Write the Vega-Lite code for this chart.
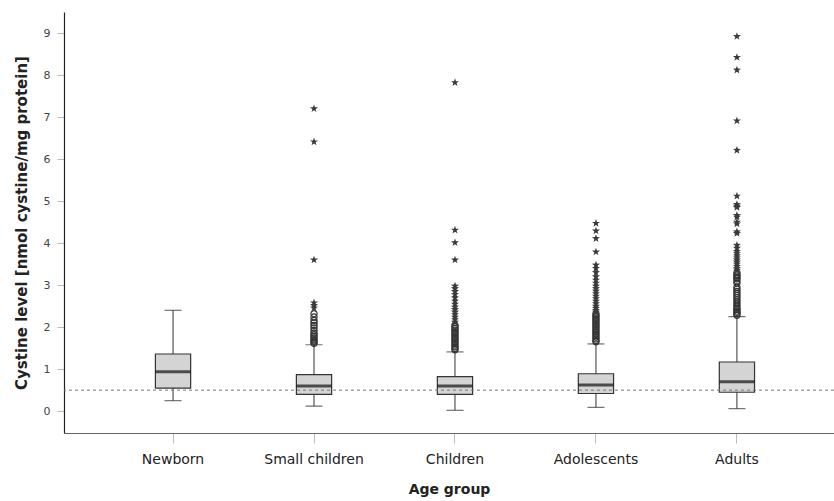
{
  "$schema": "https://vega.github.io/schema/vega-lite/v6.json",
  "width": 770,
  "height": 421,
  "autosize": "none",
  "padding": {"left": 64, "top": 12, "right": 0, "bottom": 68},
  "background": "white",
  "config": {
    "font": "DejaVu Sans",
    "view": {"stroke": null},
    "axis": {"grid": false}
  },
  "datasets": {
    "boxes": [
      {"group": "Newborn", "lower": 0.25, "q1": 0.55, "median": 0.94, "q3": 1.36, "upper": 2.40},
      {"group": "Small children", "lower": 0.12, "q1": 0.40, "median": 0.60, "q3": 0.87, "upper": 1.58},
      {"group": "Children", "lower": 0.02, "q1": 0.40, "median": 0.60, "q3": 0.82, "upper": 1.41},
      {"group": "Adolescents", "lower": 0.09, "q1": 0.42, "median": 0.62, "q3": 0.89, "upper": 1.60},
      {"group": "Adults", "lower": 0.06, "q1": 0.45, "median": 0.70, "q3": 1.17, "upper": 2.25}
    ],
    "outliers": [
      {"group": "Small children", "value": 7.2, "kind": "extreme"},
      {"group": "Small children", "value": 6.41, "kind": "extreme"},
      {"group": "Small children", "value": 3.6, "kind": "extreme"},
      {"group": "Small children", "value": 2.58, "kind": "extreme"},
      {"group": "Small children", "value": 2.52, "kind": "extreme"},
      {"group": "Small children", "value": 2.46, "kind": "extreme"},
      {"group": "Small children", "value": 2.32, "kind": "outlier"},
      {"group": "Small children", "value": 2.24, "kind": "outlier"},
      {"group": "Small children", "value": 2.16, "kind": "outlier"},
      {"group": "Small children", "value": 2.10, "kind": "outlier"},
      {"group": "Small children", "value": 2.04, "kind": "outlier"},
      {"group": "Small children", "value": 1.98, "kind": "outlier"},
      {"group": "Small children", "value": 1.92, "kind": "outlier"},
      {"group": "Small children", "value": 1.86, "kind": "outlier"},
      {"group": "Small children", "value": 1.82, "kind": "outlier"},
      {"group": "Small children", "value": 1.78, "kind": "outlier"},
      {"group": "Small children", "value": 1.74, "kind": "outlier"},
      {"group": "Small children", "value": 1.70, "kind": "outlier"},
      {"group": "Small children", "value": 1.67, "kind": "outlier"},
      {"group": "Small children", "value": 1.64, "kind": "outlier"},
      {"group": "Small children", "value": 1.61, "kind": "outlier"},
      {"group": "Children", "value": 7.82, "kind": "extreme"},
      {"group": "Children", "value": 4.31, "kind": "extreme"},
      {"group": "Children", "value": 4.01, "kind": "extreme"},
      {"group": "Children", "value": 3.60, "kind": "extreme"},
      {"group": "Children", "value": 2.98, "kind": "extreme"},
      {"group": "Children", "value": 2.92, "kind": "extreme"},
      {"group": "Children", "value": 2.85, "kind": "extreme"},
      {"group": "Children", "value": 2.78, "kind": "extreme"},
      {"group": "Children", "value": 2.70, "kind": "extreme"},
      {"group": "Children", "value": 2.62, "kind": "extreme"},
      {"group": "Children", "value": 2.55, "kind": "extreme"},
      {"group": "Children", "value": 2.48, "kind": "extreme"},
      {"group": "Children", "value": 2.42, "kind": "extreme"},
      {"group": "Children", "value": 2.36, "kind": "extreme"},
      {"group": "Children", "value": 2.30, "kind": "extreme"},
      {"group": "Children", "value": 2.24, "kind": "extreme"},
      {"group": "Children", "value": 2.18, "kind": "extreme"},
      {"group": "Children", "value": 2.12, "kind": "extreme"},
      {"group": "Children", "value": 2.05, "kind": "outlier"},
      {"group": "Children", "value": 2.01, "kind": "outlier"},
      {"group": "Children", "value": 1.97, "kind": "outlier"},
      {"group": "Children", "value": 1.93, "kind": "outlier"},
      {"group": "Children", "value": 1.89, "kind": "outlier"},
      {"group": "Children", "value": 1.85, "kind": "outlier"},
      {"group": "Children", "value": 1.81, "kind": "outlier"},
      {"group": "Children", "value": 1.77, "kind": "outlier"},
      {"group": "Children", "value": 1.73, "kind": "outlier"},
      {"group": "Children", "value": 1.69, "kind": "outlier"},
      {"group": "Children", "value": 1.65, "kind": "outlier"},
      {"group": "Children", "value": 1.61, "kind": "outlier"},
      {"group": "Children", "value": 1.57, "kind": "outlier"},
      {"group": "Children", "value": 1.53, "kind": "outlier"},
      {"group": "Children", "value": 1.49, "kind": "outlier"},
      {"group": "Children", "value": 1.46, "kind": "outlier"},
      {"group": "Adolescents", "value": 4.47, "kind": "extreme"},
      {"group": "Adolescents", "value": 4.29, "kind": "extreme"},
      {"group": "Adolescents", "value": 4.11, "kind": "extreme"},
      {"group": "Adolescents", "value": 3.79, "kind": "extreme"},
      {"group": "Adolescents", "value": 3.48, "kind": "extreme"},
      {"group": "Adolescents", "value": 3.40, "kind": "extreme"},
      {"group": "Adolescents", "value": 3.30, "kind": "extreme"},
      {"group": "Adolescents", "value": 3.20, "kind": "extreme"},
      {"group": "Adolescents", "value": 3.12, "kind": "extreme"},
      {"group": "Adolescents", "value": 3.05, "kind": "extreme"},
      {"group": "Adolescents", "value": 2.98, "kind": "extreme"},
      {"group": "Adolescents", "value": 2.92, "kind": "extreme"},
      {"group": "Adolescents", "value": 2.86, "kind": "extreme"},
      {"group": "Adolescents", "value": 2.80, "kind": "extreme"},
      {"group": "Adolescents", "value": 2.74, "kind": "extreme"},
      {"group": "Adolescents", "value": 2.68, "kind": "extreme"},
      {"group": "Adolescents", "value": 2.62, "kind": "extreme"},
      {"group": "Adolescents", "value": 2.56, "kind": "extreme"},
      {"group": "Adolescents", "value": 2.50, "kind": "extreme"},
      {"group": "Adolescents", "value": 2.45, "kind": "extreme"},
      {"group": "Adolescents", "value": 2.40, "kind": "extreme"},
      {"group": "Adolescents", "value": 2.36, "kind": "extreme"},
      {"group": "Adolescents", "value": 2.32, "kind": "outlier"},
      {"group": "Adolescents", "value": 2.28, "kind": "outlier"},
      {"group": "Adolescents", "value": 2.24, "kind": "outlier"},
      {"group": "Adolescents", "value": 2.20, "kind": "outlier"},
      {"group": "Adolescents", "value": 2.16, "kind": "outlier"},
      {"group": "Adolescents", "value": 2.12, "kind": "outlier"},
      {"group": "Adolescents", "value": 2.08, "kind": "outlier"},
      {"group": "Adolescents", "value": 2.04, "kind": "outlier"},
      {"group": "Adolescents", "value": 2.00, "kind": "outlier"},
      {"group": "Adolescents", "value": 1.96, "kind": "outlier"},
      {"group": "Adolescents", "value": 1.92, "kind": "outlier"},
      {"group": "Adolescents", "value": 1.88, "kind": "outlier"},
      {"group": "Adolescents", "value": 1.84, "kind": "outlier"},
      {"group": "Adolescents", "value": 1.80, "kind": "outlier"},
      {"group": "Adolescents", "value": 1.76, "kind": "outlier"},
      {"group": "Adolescents", "value": 1.72, "kind": "outlier"},
      {"group": "Adolescents", "value": 1.68, "kind": "outlier"},
      {"group": "Adolescents", "value": 1.65, "kind": "outlier"},
      {"group": "Adults", "value": 8.92, "kind": "extreme"},
      {"group": "Adults", "value": 8.42, "kind": "extreme"},
      {"group": "Adults", "value": 8.12, "kind": "extreme"},
      {"group": "Adults", "value": 6.91, "kind": "extreme"},
      {"group": "Adults", "value": 6.21, "kind": "extreme"},
      {"group": "Adults", "value": 5.12, "kind": "extreme"},
      {"group": "Adults", "value": 4.92, "kind": "extreme"},
      {"group": "Adults", "value": 4.88, "kind": "extreme"},
      {"group": "Adults", "value": 4.85, "kind": "extreme"},
      {"group": "Adults", "value": 4.66, "kind": "extreme"},
      {"group": "Adults", "value": 4.62, "kind": "extreme"},
      {"group": "Adults", "value": 4.50, "kind": "extreme"},
      {"group": "Adults", "value": 4.46, "kind": "extreme"},
      {"group": "Adults", "value": 4.27, "kind": "extreme"},
      {"group": "Adults", "value": 4.23, "kind": "extreme"},
      {"group": "Adults", "value": 3.95, "kind": "extreme"},
      {"group": "Adults", "value": 3.88, "kind": "extreme"},
      {"group": "Adults", "value": 3.80, "kind": "extreme"},
      {"group": "Adults", "value": 3.75, "kind": "extreme"},
      {"group": "Adults", "value": 3.70, "kind": "extreme"},
      {"group": "Adults", "value": 3.65, "kind": "extreme"},
      {"group": "Adults", "value": 3.60, "kind": "extreme"},
      {"group": "Adults", "value": 3.55, "kind": "extreme"},
      {"group": "Adults", "value": 3.50, "kind": "extreme"},
      {"group": "Adults", "value": 3.45, "kind": "extreme"},
      {"group": "Adults", "value": 3.40, "kind": "extreme"},
      {"group": "Adults", "value": 3.36, "kind": "extreme"},
      {"group": "Adults", "value": 3.30, "kind": "outlier"},
      {"group": "Adults", "value": 3.25, "kind": "outlier"},
      {"group": "Adults", "value": 3.22, "kind": "outlier"},
      {"group": "Adults", "value": 3.18, "kind": "outlier"},
      {"group": "Adults", "value": 3.15, "kind": "outlier"},
      {"group": "Adults", "value": 3.10, "kind": "outlier"},
      {"group": "Adults", "value": 3.05, "kind": "outlier"},
      {"group": "Adults", "value": 2.95, "kind": "outlier"},
      {"group": "Adults", "value": 2.90, "kind": "outlier"},
      {"group": "Adults", "value": 2.85, "kind": "outlier"},
      {"group": "Adults", "value": 2.80, "kind": "outlier"},
      {"group": "Adults", "value": 2.75, "kind": "outlier"},
      {"group": "Adults", "value": 2.70, "kind": "outlier"},
      {"group": "Adults", "value": 2.65, "kind": "outlier"},
      {"group": "Adults", "value": 2.60, "kind": "outlier"},
      {"group": "Adults", "value": 2.55, "kind": "outlier"},
      {"group": "Adults", "value": 2.50, "kind": "outlier"},
      {"group": "Adults", "value": 2.45, "kind": "outlier"},
      {"group": "Adults", "value": 2.42, "kind": "outlier"},
      {"group": "Adults", "value": 2.38, "kind": "outlier"},
      {"group": "Adults", "value": 2.35, "kind": "outlier"},
      {"group": "Adults", "value": 2.32, "kind": "outlier"},
      {"group": "Adults", "value": 2.28, "kind": "outlier"}
    ]
  },
  "layer": [
    {
      "data": {"name": "boxes"},
      "mark": {"type": "rule", "color": "#333333", "strokeWidth": 1},
      "encoding": {
        "x": {
          "field": "group", "type": "nominal",
          "scale": {"domain": ["Newborn", "Small children", "Children", "Adolescents", "Adults"], "paddingInner": 0.75, "paddingOuter": 0.606, "align": 0.535},
          "axis": {
            "orient": "bottom",
            "title": "Age group", "labelAngle": 0, "labelFontSize": 14, "labelColor": "#222222",
            "labelPadding": 9, "tickSize": 10, "tickColor": "#bbbbbb", "domainColor": "#666666", "domainWidth": 1.2,
            "titleFontSize": 14, "titleFontWeight": "bold", "titleColor": "#222222", "titlePadding": 16
          }
        },
        "y": {
          "field": "lower", "type": "quantitative",
          "scale": {"domain": [-0.52, 9.5], "nice": false, "zero": false},
          "axis": {
            "orient": "left",
            "title": "Cystine level [nmol cystine/mg protein]", "values": [0, 1, 2, 3, 4, 5, 6, 7, 8, 9],
            "labelFontSize": 11, "labelColor": "#444444", "labelPadding": 7, "tickSize": 7, "tickColor": "#bbbbbb",
            "domainColor": "#222222", "domainWidth": 1.2,
            "titleFontSize": 15, "titleFontWeight": "bold", "titleColor": "#222222", "titlePadding": 14
          }
        },
        "y2": {"field": "upper"}
      }
    },
    {
      "data": {"name": "boxes"},
      "mark": {"type": "tick", "orient": "horizontal", "color": "#333333", "size": 17, "thickness": 1.2},
      "encoding": {
        "x": {"field": "group", "type": "nominal"},
        "y": {"field": "lower", "type": "quantitative"}
      }
    },
    {
      "data": {"name": "boxes"},
      "mark": {"type": "tick", "orient": "horizontal", "color": "#333333", "size": 17, "thickness": 1.2},
      "encoding": {
        "x": {"field": "group", "type": "nominal"},
        "y": {"field": "upper", "type": "quantitative"}
      }
    },
    {
      "data": {"name": "boxes"},
      "mark": {"type": "bar", "fill": "#d4d4d4", "stroke": "#333333", "strokeWidth": 1.2},
      "encoding": {
        "x": {"field": "group", "type": "nominal"},
        "y": {"field": "q1", "type": "quantitative"},
        "y2": {"field": "q3"}
      }
    },
    {
      "data": {"values": [{"ref": 0.5}]},
      "mark": {"type": "rule", "color": "#777777", "strokeDash": [3, 3], "strokeWidth": 1},
      "encoding": {
        "y": {"field": "ref", "type": "quantitative"}
      }
    },
    {
      "data": {"name": "boxes"},
      "mark": {"type": "tick", "orient": "horizontal", "color": "#111111", "size": 35, "thickness": 3},
      "encoding": {
        "x": {"field": "group", "type": "nominal"},
        "y": {"field": "median", "type": "quantitative"}
      }
    },
    {
      "data": {"name": "outliers"},
      "transform": [{"filter": "datum.kind === 'outlier'"}],
      "mark": {"type": "point", "shape": "circle", "filled": false, "stroke": "#333333", "strokeWidth": 1.2, "size": 38, "opacity": 1},
      "encoding": {
        "x": {"field": "group", "type": "nominal"},
        "y": {"field": "value", "type": "quantitative"}
      }
    },
    {
      "data": {"name": "outliers"},
      "transform": [{"filter": "datum.kind === 'extreme'"}],
      "mark": {"type": "point", "shape": "M0,-1L0.235,-0.324L0.951,-0.309L0.38,0.124L0.588,0.809L0,0.4L-0.588,0.809L-0.38,0.124L-0.951,-0.309L-0.235,-0.324Z", "filled": true, "fill": "#3a3a3a", "strokeWidth": 0, "size": 72, "opacity": 1},
      "encoding": {
        "x": {"field": "group", "type": "nominal"},
        "y": {"field": "value", "type": "quantitative"}
      }
    }
  ]
}
